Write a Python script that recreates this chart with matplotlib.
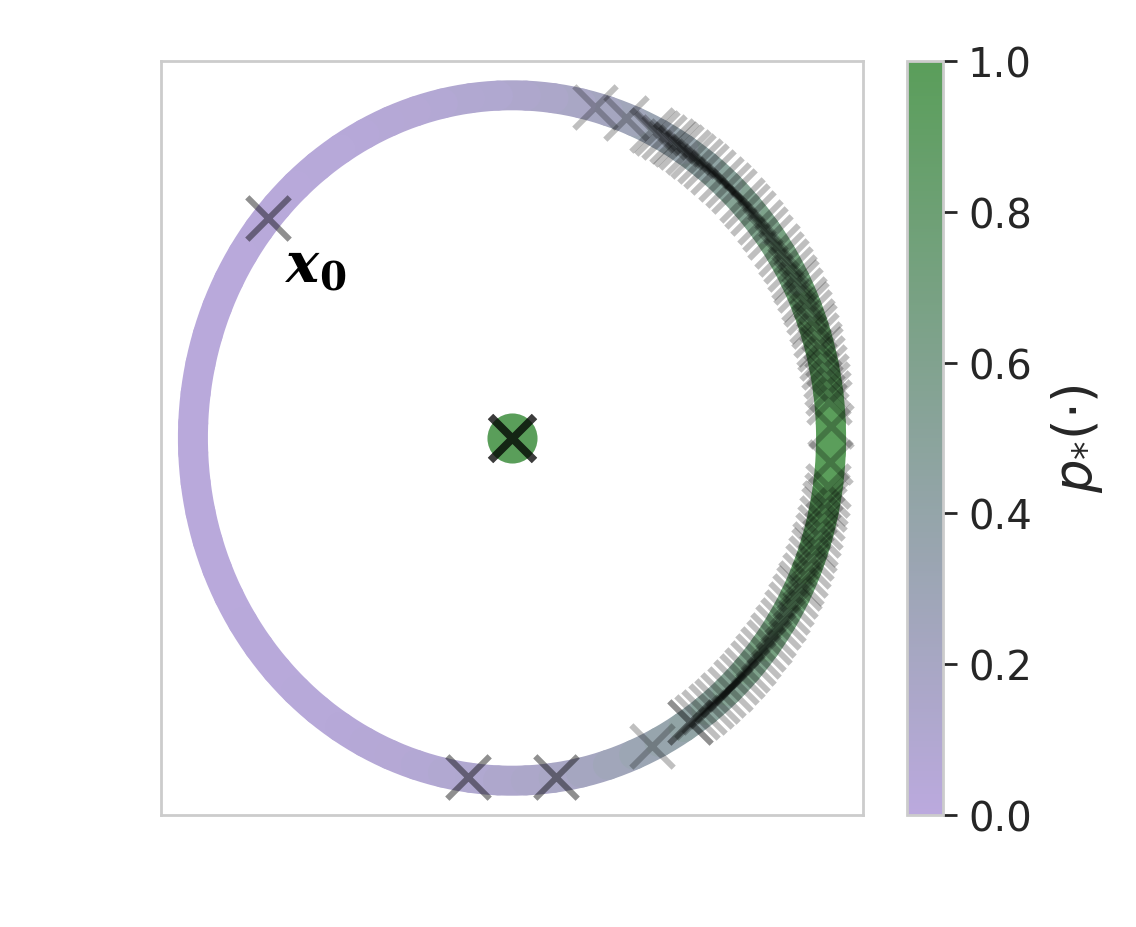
import numpy as np
import matplotlib
matplotlib.use("Agg")
import matplotlib.pyplot as plt
from matplotlib.collections import LineCollection
from matplotlib.colors import LinearSegmentedColormap, Normalize
from matplotlib.cm import ScalarMappable

# ---- data ----
ring_angle_deg = list(range(0, 360, 5))
ring_p = [1.00, 0.99, 0.97, 0.93, 0.89, 0.83, 0.76, 0.70, 0.63, 0.56,
          0.49, 0.43, 0.37, 0.32, 0.27, 0.23, 0.19, 0.16, 0.14, 0.11,
          0.10, 0.08, 0.07, 0.06, 0.05, 0.04, 0.04, 0.03, 0.03, 0.03,
          0.02, 0.02, 0.02, 0.02, 0.02, 0.02, 0.02, 0.02, 0.02, 0.02,
          0.02, 0.02, 0.02, 0.03, 0.03, 0.03, 0.04, 0.04, 0.05, 0.06,
          0.07, 0.08, 0.10, 0.11, 0.14, 0.16, 0.19, 0.23, 0.27, 0.32,
          0.37, 0.43, 0.49, 0.56, 0.63, 0.70, 0.76, 0.83, 0.89, 0.93,
          0.97, 0.99]

sample_angle_deg = [
    140, 140,
    -98, -98, -82, -82,
    75, 69,
    64, 63, 61.5, 60, 59, 58, 56.5, 55.5, 54, 52.5, 51, 49, 47.5, 46, 44,
    42.5, 41, 39, 37.5, 36, 34, 32.5, 31, 29.5, 28, 27, 25.5, 24, 23, 21.5,
    20, 19, 17.5, 16, 15, 13.5, 12, 10.5, 9, 7.5, 6,
    2, -4,
    -8, -9.5, -11, -12, -13.5, -15, -16.5, -18, -19, -20.5, -22, -23.5, -25,
    -26, -27.5, -29, -30.5, -32, -33.5, -35, -36.5, -38, -39.5, -41, -42.5,
    -44, -45.5, -47, -48.5, -50, -51.5, -53, -54.5, -56, -56, -64,
]
sample_radius = 1.0
centre_x = [0.0]
centre_y = [0.0]
centre_p = [1.0]
centre_sample_repeats = 4
cbar_ticks = [0.0, 0.2, 0.4, 0.6, 0.8, 1.0]
cbar_label = r'$p_{*}(\cdot)$'
start_label = r'x$_{\mathbf{0}}$'

# ---- styling ----
cmap = LinearSegmentedColormap.from_list("pg", ["#bba9de", "#5a9e5a"])
norm = Normalize(0, 1)
text_col = "#262626"
spine_col = "#cccccc"

fig = plt.figure(figsize=(11.36, 9.28), dpi=100)
ax = fig.add_axes([161/1136, 112/928, 702/1136, 754/928])
cax = fig.add_axes([907/1136, 112/928, 36/1136, 754/928])

# ring: short arcs, each coloured by its p value
half = 2.5
segs = []
for a in ring_angle_deg:
    t = np.deg2rad(np.linspace(a - half, a + half, 4))
    segs.append(np.column_stack([np.cos(t), np.sin(t)]))
lc = LineCollection(segs, cmap=cmap, norm=norm, linewidths=21.6,
                    capstyle='round', zorder=1)
lc.set_array(np.array(ring_p))
ax.add_collection(lc)

# centre point
ax.scatter(centre_x, centre_y, c=centre_p, cmap=cmap, norm=norm, s=1300,
           linewidths=0, zorder=2)

# samples
th = np.deg2rad(np.array(sample_angle_deg))
sx = sample_radius * np.cos(th)
sy = sample_radius * np.sin(th)
ax.scatter(sx, sy, marker='x', s=930, c='k', alpha=0.25, linewidths=4.3,
           zorder=3)
ax.scatter(centre_x * centre_sample_repeats, centre_y * centre_sample_repeats,
           marker='x', s=1000, c='k', alpha=0.3, linewidths=5.5, zorder=4)

ax.text(-0.71, 0.455, start_label, fontsize=40, color='k',
        family='DejaVu Serif', fontstyle='italic', fontweight='bold',
        math_fontfamily='dejavuserif', ha='left', va='baseline')

ax.set_xlim(-1.1, 1.1)
ax.set_ylim(-1.1, 1.1)
ax.set_xticks([])
ax.set_yticks([])
for s in ax.spines.values():
    s.set_color(spine_col)
    s.set_linewidth(2)

cb = fig.colorbar(ScalarMappable(norm=norm, cmap=cmap), cax=cax)
cb.set_ticks(cbar_ticks)
cb.ax.tick_params(labelsize=29, colors=text_col, length=10, width=2, pad=8)
cb.outline.set_edgecolor(spine_col)
cb.outline.set_linewidth(2)
cb.set_label(cbar_label, fontsize=38, color=text_col, labelpad=12)

fig.savefig("out.png", dpi=100, facecolor='white')
